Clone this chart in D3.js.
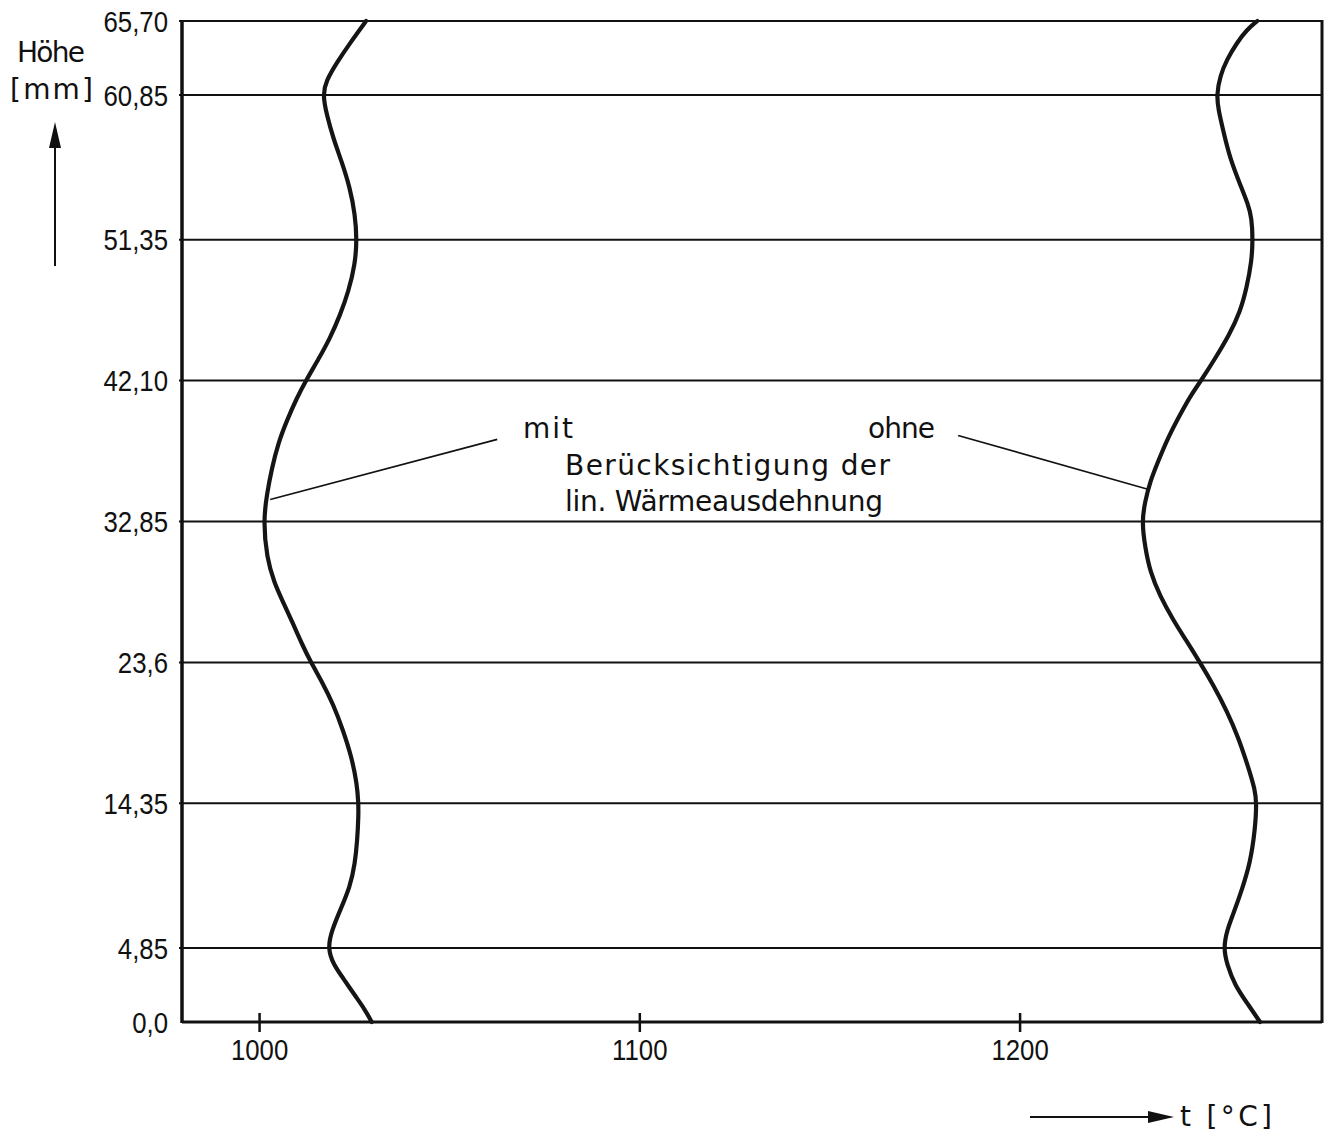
<!DOCTYPE html>
<html>
<head>
<meta charset="utf-8">
<script src="https://cdn.jsdelivr.net/npm/d3@7"></script>
<style>
  body { margin: 0; background: #fff; }
  svg { display: block; background: #fff; }
  .tick-label { font-family: "Liberation Sans", Arial, sans-serif; font-size: 30px; fill: #111; }
  .note { font-family: "DejaVu Sans", sans-serif; font-size: 28px; fill: #111; }
</style>
</head>
<body>
<svg id="chart" width="1327" height="1135"></svg>
<script>
const WIDTH = 1327;
const HEIGHT = 1135;
const PLOT = { left: 182, right: 1322, top: 21, bottom: 1022 }; // px
const NARROW = 0.86; // the lettering is condensed

// y axis: Höhe [mm], uneven grid at the measuring planes
const yTicks = [0, 4.85, 14.35, 23.6, 32.85, 42.10, 51.35, 60.85, 65.70];
const yTickLabels = ['0,0', '4,85', '14,35', '23,6', '32,85', '42,10', '51,35', '60,85', '65,70'];

// x axis: t [°C]
const xTicks = [1000, 1100, 1200];
const xTickLabels = ['1000', '1100', '1200'];
const xDomain = [979.6, 1279.4];

// [Höhe mm, t °C] - mit Berücksichtigung der lin. Wärmeausdehnung
const mitCurve = [
  [0, 1029.5], [0.82, 1027.7], [1.73, 1025.1], [2.87, 1022.0], [3.78, 1019.4],
  [4.85, 1017.9], [6.02, 1019.0], [7.34, 1021.2], [8.87, 1023.8], [10.41, 1025.1],
  [11.96, 1025.7], [13.49, 1026.0], [14.35, 1026.0], [15.66, 1025.6], [17.39, 1024.2],
  [19.12, 1022.0], [20.84, 1019.4], [22.35, 1016.4], [23.6, 1013.5], [24.78, 1011.2],
  [26.14, 1008.8], [27.5, 1006.3], [28.86, 1003.8], [30.46, 1001.9], [32.85, 1001.0],
  [34.62, 1001.9], [36.32, 1003.2], [38.0, 1004.9], [39.49, 1007.2], [40.96, 1009.8],
  [42.1, 1012.2], [43.55, 1015.6], [44.87, 1018.5], [46.41, 1021.2], [47.96, 1023.4],
  [49.72, 1025.1], [51.35, 1025.6], [53.0, 1025.1], [54.73, 1023.8], [56.47, 1021.6],
  [57.99, 1019.4], [59.5, 1017.7], [60.85, 1016.6], [61.77, 1017.5], [62.96, 1020.3],
  [64.26, 1023.8], [65.70, 1028.0]
];

// [Höhe mm, t °C] - ohne Berücksichtigung
const ohneCurve = [
  [0, 1263.1], [1.28, 1259.6], [2.41, 1256.5], [3.78, 1254.4], [4.85, 1253.5],
  [6.02, 1254.4], [7.11, 1256.1], [8.66, 1258.3], [10.41, 1260.5], [12.61, 1261.8],
  [14.35, 1262.2], [15.24, 1261.8], [16.74, 1260.0], [18.68, 1257.4], [20.41, 1254.4],
  [22.13, 1250.8], [23.6, 1247.3], [25.0, 1243.8], [26.37, 1240.3], [27.95, 1236.8],
  [29.54, 1234.2], [31.13, 1232.9], [32.85, 1232.0], [34.2, 1232.9], [35.47, 1234.2],
  [36.73, 1236.2], [38.42, 1239.0], [40.11, 1242.6], [41.17, 1245.0], [42.1, 1247.6],
  [43.55, 1251.3], [45.09, 1255.0], [46.63, 1257.9], [48.2, 1259.6], [49.94, 1260.9],
  [51.35, 1261.2], [52.78, 1260.9], [53.65, 1260.0], [54.95, 1257.9], [56.69, 1255.2],
  [58.42, 1253.5], [59.94, 1252.1], [60.85, 1251.7], [62.1, 1252.6], [63.18, 1254.4],
  [64.26, 1257.0], [65.12, 1259.6], [65.70, 1262.4]
];

// leader lines, [Höhe, t] from label to curve
const leaders = [
  [[38.24, 1062.5], [34.3, 1002.8]],
  [[38.5, 1183.7], [34.96, 1233.6]]
];

const svg = d3.select('#chart');

const x = d3.scaleLinear().domain(xDomain).range([PLOT.left, PLOT.right]);
const y = d3.scaleLinear().domain([0, 65.70]).range([PLOT.bottom, PLOT.top]);

// horizontal grid lines
svg.append('g')
  .selectAll('line')
  .data(yTicks.filter(d => d > 0))
  .join('line')
    .attr('x1', PLOT.left - 3)
    .attr('x2', PLOT.right)
    .attr('y1', d => y(d))
    .attr('y2', d => y(d))
    .attr('stroke', '#111')
    .attr('stroke-width', 2);

// frame
svg.append('line')
  .attr('x1', PLOT.left).attr('x2', PLOT.left)
  .attr('y1', PLOT.top - 1).attr('y2', PLOT.bottom + 1)
  .attr('stroke', '#111').attr('stroke-width', 3.5);
svg.append('line')
  .attr('x1', PLOT.right).attr('x2', PLOT.right)
  .attr('y1', PLOT.top - 1).attr('y2', PLOT.bottom + 1)
  .attr('stroke', '#111').attr('stroke-width', 3);
svg.append('line')
  .attr('x1', PLOT.left).attr('x2', PLOT.right)
  .attr('y1', PLOT.bottom).attr('y2', PLOT.bottom)
  .attr('stroke', '#111').attr('stroke-width', 3);

// y tick labels
svg.append('g')
  .selectAll('text')
  .data(yTicks)
  .join('text')
    .attr('class', 'tick-label')
    .attr('transform', d => `translate(168,${y(d)}) scale(${NARROW},1)`)
    .attr('dy', '0.36em')
    .attr('text-anchor', 'end')
    .text((d, i) => yTickLabels[i]);

// x ticks, crossing the axis
svg.append('g')
  .selectAll('line')
  .data(xTicks)
  .join('line')
    .attr('x1', d => x(d))
    .attr('x2', d => x(d))
    .attr('y1', PLOT.bottom - 9)
    .attr('y2', PLOT.bottom + 10)
    .attr('stroke', '#111')
    .attr('stroke-width', 2.5);

svg.append('g')
  .selectAll('text')
  .data(xTicks)
  .join('text')
    .attr('class', 'tick-label')
    .attr('transform', d => `translate(${x(d)},1060) scale(${NARROW},1)`)
    .attr('text-anchor', 'middle')
    .text((d, i) => xTickLabels[i]);

// curves
const lineFn = d3.line()
  .curve(d3.curveBasis)
  .x(d => x(d[1]))
  .y(d => y(d[0]));

svg.append('g')
  .selectAll('path')
  .data([mitCurve, ohneCurve])
  .join('path')
    .attr('d', d => lineFn(d))
    .attr('fill', 'none')
    .attr('stroke', '#151515')
    .attr('stroke-width', 4.2)
    .attr('stroke-linejoin', 'round')
    .attr('stroke-linecap', 'round');

// leader lines
svg.append('g')
  .selectAll('line')
  .data(leaders)
  .join('line')
    .attr('x1', d => x(d[0][1]))
    .attr('y1', d => y(d[0][0]))
    .attr('x2', d => x(d[1][1]))
    .attr('y2', d => y(d[1][0]))
    .attr('stroke', '#111')
    .attr('stroke-width', 1.6);

// annotation
const note = svg.append('g').attr('class', 'note');
note.append('text').attr('x', 523).attr('y', 438).attr('textLength', 50).text('mit');
note.append('text').attr('x', 868).attr('y', 438).attr('textLength', 67).text('ohne');
note.append('text').attr('x', 565).attr('y', 475).attr('textLength', 325).text('Berücksichtigung der');
note.append('text').attr('x', 565).attr('y', 511).attr('textLength', 318).text('lin. Wärmeausdehnung');

// axis titles with arrows
const titles = svg.append('g').attr('class', 'note');
titles.append('text').attr('x', 17).attr('y', 62).attr('textLength', 68).text('Höhe');
titles.append('text').attr('x', 10).attr('y', 99).attr('textLength', 83).text('[mm]');
titles.append('text').attr('x', 1180).attr('y', 1126).attr('textLength', 92).text('t [°C]');

svg.append('line')
  .attr('x1', 55).attr('x2', 55).attr('y1', 266).attr('y2', 140)
  .attr('stroke', '#111').attr('stroke-width', 2);
svg.append('path')
  .attr('d', 'M55,122 L49,148 L61,148 Z')
  .attr('fill', '#111');

svg.append('line')
  .attr('x1', 1030).attr('x2', 1155).attr('y1', 1117).attr('y2', 1117)
  .attr('stroke', '#111').attr('stroke-width', 2);
svg.append('path')
  .attr('d', 'M1174,1117 L1148,1111 L1148,1123 Z')
  .attr('fill', '#111');
</script>
</body>
</html>
